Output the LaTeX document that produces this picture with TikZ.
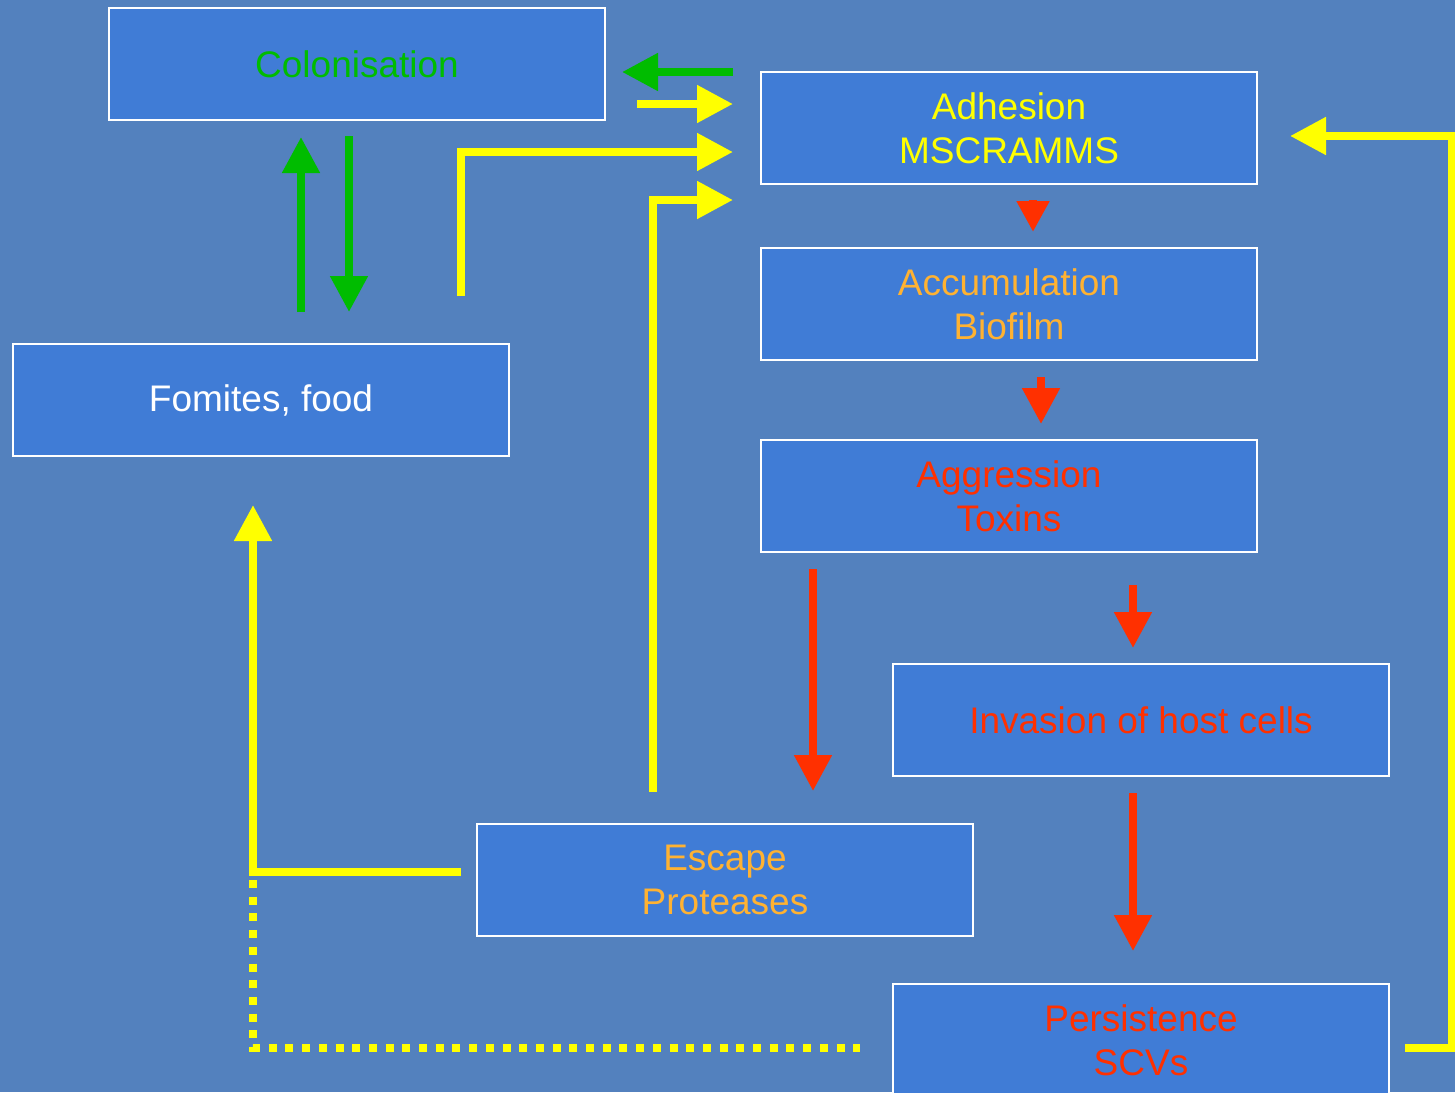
\documentclass[tikz,border=0pt]{standalone}
\usepackage{fontspec}
\setmainfont{Liberation Sans}
\usetikzlibrary{arrows.meta}
\definecolor{bg}{RGB}{83,129,190}
\definecolor{boxfill}{RGB}{64,124,214}
\definecolor{cgreen}{RGB}{0,188,0}
\definecolor{yel}{RGB}{255,255,0}
\definecolor{myred}{RGB}{255,48,0}
\definecolor{myorange}{RGB}{255,178,50}
\begin{document}
\begin{tikzpicture}[x=1pt,y=-1pt,
  box/.style={draw=white, line width=2pt, fill=boxfill, minimum width=496pt, minimum height=112pt, inner sep=0pt, align=center, font=\fontsize{37}{44}\selectfont},
  conn/.style={line width=8pt, -{Triangle[length=36pt,width=36pt]}},
  smallconn/.style={line width=8pt, -{Triangle[length=31pt,width=31pt]}},
  dotline/.style={line width=8pt, dash pattern=on 8pt off 8.7pt},
  plainline/.style={line width=8pt},
]
\fill[bg] (0,0) rectangle (1455,1092);
\useasboundingbox (0,0) rectangle (1455,1092);

\node[box, text=cgreen] (col) at (357,64) {Colonisation};
\node[box, text=yel] (adh) at (1009,128) {Adhesion\\MSCRAMMS};
\node[box, text=myorange] (acc) at (1009,304) {Accumulation\\Biofilm};
\node[box, text=myred] (agg) at (1009,496) {Aggression\\Toxins};
\node[box, text=myred] (inv) at (1141,720) {Invasion of host cells};
\node[box, text=white] (fom) at (261,400) {Fomites, food};
\node[box, text=myorange] (esc) at (725,880) {Escape\\Proteases};
\node[box, text=myred] (per) at (1141,1040) {Persistence\\SCVs};

% coordinates
\coordinate (g1s) at (733,72);  \coordinate (g1e) at (622,72);
\coordinate (y2s) at (637,104); \coordinate (y2e) at (733,104);
\coordinate (y3s) at (461,296); \coordinate (y3e) at (733,152);
\coordinate (y4s) at (653,792); \coordinate (y4e) at (733,200);
\coordinate (g2s) at (301,312); \coordinate (g2e) at (301,137);
\coordinate (g3s) at (349,136); \coordinate (g3e) at (349,312);
\coordinate (r1s) at (1033,200); \coordinate (r1e) at (1033,232);
\coordinate (r2s) at (1041,377); \coordinate (r2e) at (1041,424);
\coordinate (r3s) at (813,569);  \coordinate (r3e) at (813,791);
\coordinate (r4s) at (1133,585); \coordinate (r4e) at (1133,648);
\coordinate (r5s) at (1133,793); \coordinate (r5e) at (1133,951);
\coordinate (y5s) at (461,872);  \coordinate (y5e) at (253,505);
\coordinate (y6s) at (253,880);  \coordinate (y6e) at (860,1048);
\coordinate (y7s) at (1405,1048); \coordinate (y7c1) at (1452,1048);
\coordinate (y7c2) at (1452,136); \coordinate (y7e) at (1290,136);

\draw[conn, cgreen] (g1s) -- (g1e);
\draw[conn, yel] (y2s) -- (y2e);
\draw[conn, yel] (y3s) |- (y3e);
\draw[conn, yel] (y4s) |- (y4e);
\draw[conn, cgreen] (g2s) -- (g2e);
\draw[conn, cgreen] (g3s) -- (g3e);
\draw[smallconn, myred] (r1s) -- (r1e);
\draw[conn, myred] (r2s) -- (r2e);
\draw[conn, myred] (r3s) -- (r3e);
\draw[conn, myred] (r4s) -- (r4e);
\draw[conn, myred] (r5s) -- (r5e);
\draw[conn, yel] (y5s) -| (y5e);
\draw[dotline, yel] (y6s) |- (y6e);
\draw[conn, yel] (y7s) -- (y7c1) -- (y7c2) -- (y7e);
\end{tikzpicture}
\end{document}
